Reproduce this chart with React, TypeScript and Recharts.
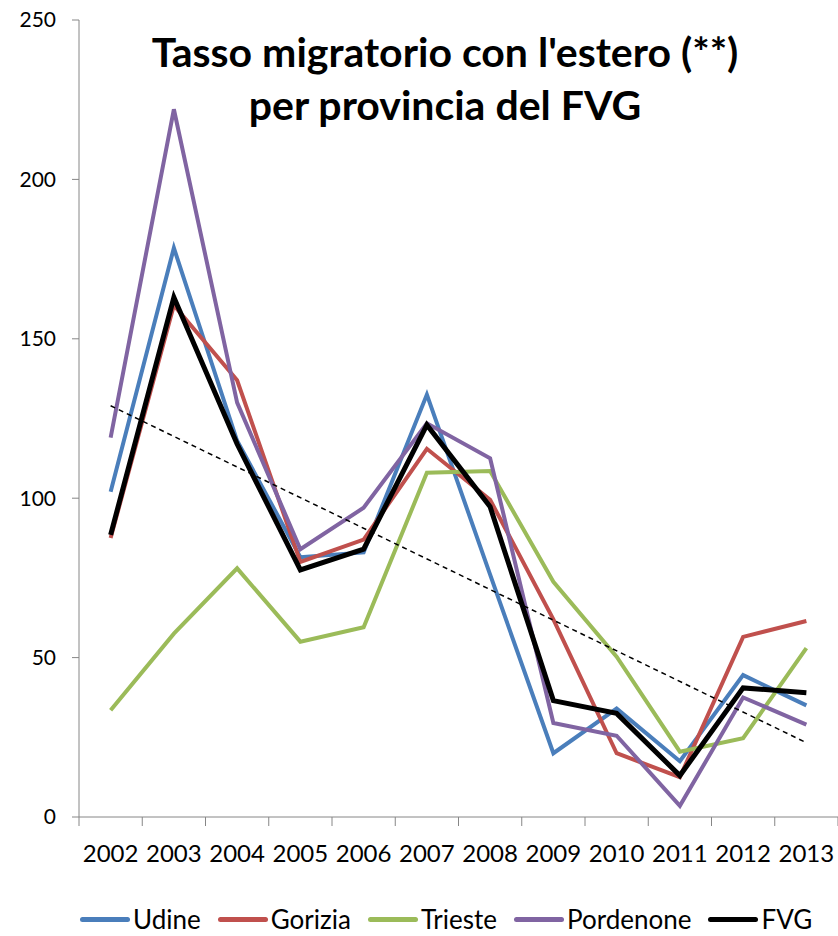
import { LineChart, Line, XAxis, YAxis } from 'recharts';

const years = [2002, 2003, 2004, 2005, 2006, 2007, 2008, 2009, 2010, 2011, 2012, 2013];
const udine = [102, 178.5, 118, 81.5, 83, 132.5, 76, 20, 34, 17.5, 44.5, 35];
const gorizia = [87.5, 160.5, 137, 80, 87, 115.5, 99.5, 62, 20, 12.5, 56.5, 61.5];
const trieste = [33.5, 57.5, 78, 55, 59.5, 108, 108.5, 73.8, 50.3, 20.5, 24.7, 53];
const pordenone = [119, 222, 130, 84, 97, 123.5, 112.5, 29.5, 25.5, 3.5, 37.5, 29];
const fvg = [88.5, 163, 117, 77.5, 84, 123, 97.3, 36.5, 32.5, 13, 40.5, 39];
// trend line end points (linear, FVG)
const trend = [129, null, null, null, null, null, null, null, null, null, null, 23.3];
const yTicks = [0, 50, 100, 150, 200, 250];

const series = [
  { key: 'udine', name: 'Udine', color: '#4A7EBB', width: 4 },
  { key: 'gorizia', name: 'Gorizia', color: '#C0504D', width: 4 },
  { key: 'trieste', name: 'Trieste', color: '#9BBB59', width: 4 },
  { key: 'pordenone', name: 'Pordenone', color: '#8064A2', width: 4 },
  { key: 'fvg', name: 'FVG', color: '#000000', width: 5 },
];

const data = years.map((year, i) => ({
  year,
  udine: udine[i],
  gorizia: gorizia[i],
  trieste: trieste[i],
  pordenone: pordenone[i],
  fvg: fvg[i],
  trend: trend[i],
}));

const W = 838;
const H = 936;
const LEFT = 79;
const FONT = 'Lato, "Open Sans", sans-serif';
const half = (W - LEFT) / years.length / 2;
const xTicks = [...years.map((y) => y - 0.5), years[years.length - 1] + 0.5];

const YearTick = (props: any) => {
  const { x, y, payload } = props;
  const label = payload.value + 0.5;
  if (label > years[years.length - 1]) return <g />;
  return (
    <text x={x + half} y={y + 36} textAnchor="middle" fontSize={24} fontFamily={FONT} fill="#000">
      {label}
    </text>
  );
};

export default function App() {
  return (
    <div style={{ position: 'absolute', left: 0, top: 0, width: W, height: H, background: '#fff' }}>
      <LineChart width={W} height={H} data={data} margin={{ top: 20, right: 0, left: 0, bottom: 0 }}>
        <XAxis
          dataKey="year"
          type="number"
          domain={[2001.5, 2013.5]}
          ticks={xTicks}
          interval={0}
          tick={<YearTick />}
          tickSize={9}
          tickMargin={0}
          stroke="#868686"
          height={119}
        />
        <YAxis
          domain={[0, 250]}
          ticks={yTicks}
          width={LEFT}
          tickSize={7}
          tickMargin={16}
          stroke="#868686"
          tick={{ fontSize: 21, fill: '#000', fontFamily: FONT }}
        />
        {series.map((s) => (
          <Line
            key={s.key}
            type="linear"
            dataKey={s.key}
            name={s.name}
            stroke={s.color}
            strokeWidth={s.width}
            dot={false}
            activeDot={false}
            isAnimationActive={false}
          />
        ))}
        <Line
          type="linear"
          dataKey="trend"
          stroke="#000"
          strokeWidth={1.5}
          strokeDasharray="5 4"
          dot={false}
          activeDot={false}
          connectNulls
          legendType="none"
          isAnimationActive={false}
        />
      </LineChart>
      <div
        style={{
          position: 'absolute',
          left: 95,
          width: 700,
          top: 25,
          textAlign: 'center',
          fontFamily: FONT,
          fontWeight: 700,
          fontSize: 41,
          lineHeight: '53px',
          color: '#000',
        }}
      >
        Tasso migratorio con l'estero (**)
        <br />
        per provincia del FVG
      </div>
      <div
        style={{
          position: 'absolute',
          left: 80,
          top: 905,
          display: 'flex',
          alignItems: 'center',
          fontFamily: FONT,
          fontSize: 26,
          lineHeight: '28px',
          color: '#000',
        }}
      >
        {series.map((s) => (
          <div key={s.key} style={{ display: 'flex', alignItems: 'center', marginRight: 17 }}>
            <span style={{ display: 'inline-block', width: 50, height: 5, borderRadius: 3, background: s.color, marginRight: 3 }} />
            <span>{s.name}</span>
          </div>
        ))}
      </div>
    </div>
  );
}
